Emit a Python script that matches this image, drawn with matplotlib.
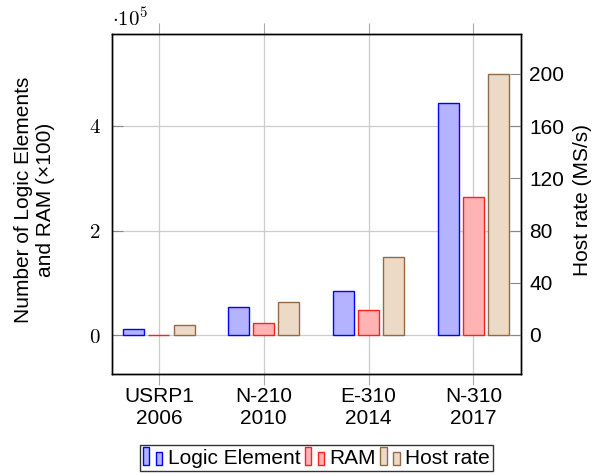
import matplotlib
matplotlib.use('Agg')
import matplotlib.pyplot as plt
from matplotlib.patches import Rectangle
from matplotlib.legend_handler import HandlerBase
import numpy as np

plt.rcParams['font.family'] = ['Liberation Sans', 'DejaVu Sans']
plt.rcParams['mathtext.fontset'] = 'cm'

# data
devices = ['USRP1', 'N-210', 'E-310', 'N-310']
years = ['2006', '2010', '2014', '2017']
logic_elements = [0.12e5, 0.54e5, 0.85e5, 4.44e5]
ram = [0.002e5, 0.23e5, 0.48e5, 2.65e5]
host_rate = [8, 25, 60, 200]

left_ticks = [0, 2e5, 4e5]
left_ticklabels = ['$0$', '$2$', '$4$']
right_ticks = [0, 40, 80, 120, 160, 200]

blue_fill, blue_edge = '#b3b3ff', '#0000ff'
red_fill, red_edge = '#ffb3b3', '#ff2020'
brown_fill, brown_edge = '#ecdac6', '#8f6b47'
fs = 15


class TwoBarHandler(HandlerBase):
    # pgfplots style ybar legend: two little bars
    def create_artists(self, legend, orig_handle, xdescent, ydescent,
                       width, height, fontsize, trans):
        fc = orig_handle.get_facecolor()
        ec = orig_handle.get_edgecolor()
        w = width * 0.3
        r1 = Rectangle((-xdescent, -ydescent - 0.1 * height), w, height * 1.25,
                       facecolor=fc, edgecolor=ec, lw=1, transform=trans)
        r2 = Rectangle((-xdescent + width * 0.62, -ydescent - 0.1 * height), w,
                       height * 0.9, facecolor=fc, edgecolor=ec, lw=1,
                       transform=trans)
        return [r1, r2]


fig = plt.figure(figsize=(6.06, 4.75), dpi=100)
ax = fig.add_axes([0.1843, 0.2126, 0.6749, 0.7158])
ax2 = ax.twinx()

x = np.arange(len(devices))
bw = 0.2
b1 = ax.bar(x - 0.24, logic_elements, bw, facecolor=blue_fill,
            edgecolor=blue_edge, lw=1, zorder=3)
b2 = ax.bar(x, ram, bw, facecolor=red_fill, edgecolor=red_edge, lw=1, zorder=3)
b3 = ax2.bar(x + 0.24, host_rate, bw, facecolor=brown_fill,
             edgecolor=brown_edge, lw=1, zorder=3)

ax.set_xlim(-0.45, 3.45)
ax.set_ylim(-0.746e5, 5.76e5)
ax2.set_ylim(-29.9, 230.6)

ax.set_axisbelow(True)
ax.grid(True, color='#cccccc', lw=0.9)

ax.set_xticks(x)
ax.set_xticklabels([d + '\n' + y for d, y in zip(devices, years)],
                   fontsize=fs, linespacing=1.25)
ax.tick_params(axis='x', direction='out', length=8, color='#aaaaaa',
               top=True, pad=1)

ax.set_yticks(left_ticks)
ax.set_yticklabels(left_ticklabels, fontsize=15)
ax.tick_params(axis='y', direction='in', length=8, color='#888888', pad=8)

ax2.set_yticks(right_ticks)
ax2.tick_params(axis='y', direction='in', length=8, color='#888888',
                labelsize=fs, pad=6)

for a in (ax, ax2):
    for s in a.spines.values():
        s.set_linewidth(1.0)
        s.set_color('black')

ax.text(0.0, 1.01, r'$\cdot 10^5$', transform=ax.transAxes, fontsize=15,
        ha='left', va='bottom')

fig.text(35 / 606, 1 - 200 / 475, 'Number of Logic Elements\nand RAM (×100)',
         rotation=90, ha='center', va='center', fontsize=fs,
         multialignment='center', linespacing=1.2)
fig.text(582 / 606, 1 - 200 / 475, 'Host rate (MS/s)', rotation=90,
         ha='center', va='center', fontsize=fs)

leg = fig.legend([b1.patches[0], b2.patches[0], b3.patches[0]],
                 ['Logic Element', 'RAM', 'Host rate'],
                 handler_map={Rectangle: TwoBarHandler()},
                 loc='center', bbox_to_anchor=(316.5 / 606, 1 - 458 / 475),
                 ncol=3, fontsize=fs, frameon=True, fancybox=False,
                 handlelength=1.0, handletextpad=0.2, columnspacing=0.2,
                 borderpad=0.15, borderaxespad=0)
leg.get_frame().set_edgecolor('black')
leg.get_frame().set_linewidth(1.0)

fig.savefig('out.png', dpi=100)
